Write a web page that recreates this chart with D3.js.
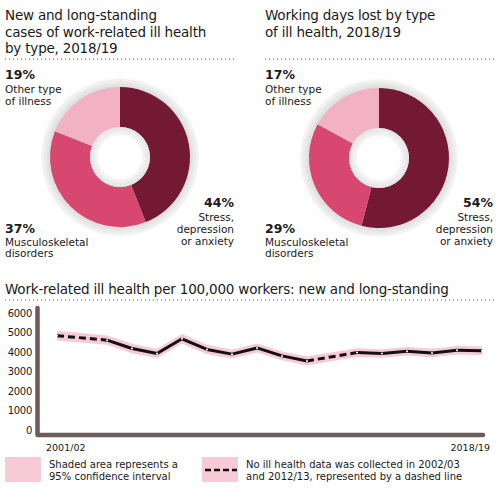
<!DOCTYPE html>
<html><head><meta charset="utf-8">
<script src="https://cdn.jsdelivr.net/npm/d3@7"></script>
<style>
body{margin:0;background:#fff;}
text{font-family:"DejaVu Sans",sans-serif;fill:#1a1a1a;}
</style></head>
<body>
<svg id="c" width="502" height="493"></svg>
<script>
// ---------- data ----------
const pieCategories = ["Stress, depression or anxiety", "Musculoskeletal disorders", "Other type of illness"];
const casesShare = [44, 37, 19];
const daysShare = [54, 29, 17];
const pieColors = ["#731934", "#d8476f", "#f3b2c4"];

const years = ["2001/02","2002/03","2003/04","2004/05","2005/06","2006/07","2007/08","2008/09","2009/10",
  "2010/11","2011/12","2012/13","2013/14","2014/15","2015/16","2016/17","2017/18","2018/19"];
const rate = [4850, null, 4620, 4190, 3930, 4690, 4140, 3900, 4220, 3810, 3550, null, 3980, 3930, 4050, 3960, 4100, 4070];
const rateLower = [4600, null, 4380, 3950, 3700, 4450, 3900, 3670, 3990, 3580, 3320, null, 3760, 3710, 3830, 3740, 3880, 3850];
const rateUpper = [5100, null, 4860, 4430, 4160, 4930, 4380, 4130, 4450, 4040, 3780, null, 4200, 4150, 4270, 4180, 4320, 4290];
const yTicks = [0, 1000, 2000, 3000, 4000, 5000, 6000];
const xTickLabels = ["2001/02", "2018/19"];

const svg = d3.select("#c");
const defs = svg.append("defs");

const halo = defs.append("radialGradient").attr("id","halo");
halo.append("stop").attr("offset","86%").attr("stop-color","#d6d6d6");
halo.append("stop").attr("offset","93%").attr("stop-color","#e7e7e7");
halo.append("stop").attr("offset","100%").attr("stop-color","#f7f7f7");
const hole = defs.append("radialGradient").attr("id","hole");
hole.append("stop").attr("offset","70%").attr("stop-color","#ffffff");
hole.append("stop").attr("offset","78%").attr("stop-color","#f3f3f3");
hole.append("stop").attr("offset","100%").attr("stop-color","#e3e3e3");

function dotted(x1, x2, y){
  svg.append("line").attr("x1",x1).attr("x2",x2).attr("y1",y).attr("y2",y)
    .attr("stroke","#555").attr("stroke-width",1).attr("stroke-dasharray","1,3");
}

function multiline(x, y, lines, opts){
  const t = svg.append("text").attr("x",x).attr("y",y)
    .attr("font-size",opts.size).attr("text-anchor",opts.anchor||"start")
    .attr("font-weight",opts.weight||"normal");
  if(opts.ls) t.attr("letter-spacing", opts.ls);
  lines.forEach((l,i)=>t.append("tspan").attr("x",x).attr("dy", i===0?0:opts.lh).text(l));
}

function donut(cx, cy, values, titleX, titleLines, labX, labR){
  multiline(titleX, 20, titleLines, {size:13.5, lh:16.5, ls:-0.2});
  const r = 70, rIn = 30;
  svg.append("circle").attr("cx",cx).attr("cy",cy).attr("r",r+9).attr("fill","url(#halo)");
  const pie = d3.pie().sort(null).value(d=>d)(values);
  const arc = d3.arc().innerRadius(rIn).outerRadius(r);
  svg.append("g").attr("transform",`translate(${cx},${cy})`)
    .selectAll("path").data(pie).join("path")
    .attr("d",arc).attr("fill",(d,i)=>pieColors[i]);
  svg.append("circle").attr("cx",cx).attr("cy",cy).attr("r",rIn).attr("fill","url(#hole)");
  multiline(labX, 79, [values[2]+"%"], {size:12.5, weight:"bold"});
  multiline(labX, 93, ["Other type","of illness"], {size:10.5, lh:12});
  multiline(labX, 233, [values[1]+"%"], {size:12.5, weight:"bold"});
  multiline(labX, 245.5, ["Musculoskeletal","disorders"], {size:10.5, lh:11.5});
  multiline(labR, 207, [values[0]+"%"], {size:12.5, weight:"bold", anchor:"end"});
  multiline(labR, 221, ["Stress,","depression","or anxiety"], {size:10.5, lh:12, anchor:"end"});
}

donut(120, 157, casesShare, 5, ["New and long-standing","cases of work-related ill health","by type, 2018/19"], 5, 234);
dotted(5, 236, 59);
donut(379, 158, daysShare, 265, ["Working days lost by type","of ill health, 2018/19"], 265, 493);
dotted(265, 496, 59);

// ---------- line chart ----------
svg.append("text").attr("x",5).attr("y",294).attr("font-size",13.5).attr("letter-spacing",-0.2)
  .text("Work-related ill health per 100,000 workers: new and long-standing");
dotted(5, 496, 300);

const x = d3.scalePoint().domain(years).range([57, 482]);
const y = d3.scaleLinear().domain([0, 6000]).range([430, 313.3]);

const pts = years.map((yr,i)=>({yr, v:rate[i], lo:rateLower[i], hi:rateUpper[i]})).filter(d=>d.v!==null);

svg.append("path").datum(pts)
  .attr("d", d3.area().x(d=>x(d.yr)).y0(d=>y(d.lo)).y1(d=>y(d.hi)))
  .attr("fill","#f6cad6");

for(let k=0;k<pts.length-1;k++){
  const a=pts[k], b=pts[k+1];
  const gap = years.indexOf(b.yr)-years.indexOf(a.yr) > 1;
  svg.append("line").attr("x1",x(a.yr)).attr("y1",y(a.v)).attr("x2",x(b.yr)).attr("y2",y(b.v))
    .attr("stroke","#111").attr("stroke-width",3)
    .attr("stroke-dasharray", gap ? "7,4" : null);
}
svg.append("g").selectAll("circle").data(pts).join("circle")
  .attr("cx",d=>x(d.yr)).attr("cy",d=>y(d.v)).attr("r",1).attr("fill","#fff");

const yAxis = svg.append("g").attr("transform","translate(32,0)")
  .call(d3.axisLeft(y).tickValues(yTicks).tickSize(0).tickPadding(0).tickFormat(d3.format("d")));
yAxis.select(".domain").remove();
yAxis.selectAll("text").attr("font-size",10).attr("font-family","DejaVu Sans,sans-serif").attr("fill","#1a1a1a").attr("letter-spacing",-0.3);

svg.append("path").attr("d",`M37.5,308 V435 H483`).attr("fill","none")
  .attr("stroke","#6e5a5a").attr("stroke-width",4.5).attr("stroke-linecap","round").attr("stroke-linejoin","round");

svg.append("text").attr("x",x(years[0])-11).attr("y",451).attr("font-size",9.5).text(xTickLabels[0]);
svg.append("text").attr("x",490).attr("y",451).attr("font-size",9.5).attr("text-anchor","end").text(xTickLabels[1]);

svg.append("rect").attr("x",5).attr("y",457).attr("width",36).attr("height",25).attr("fill","#f6cad6");
multiline(49, 468, ["Shaded area represents a","95% confidence interval"], {size:10, lh:12});
svg.append("rect").attr("x",202).attr("y",457).attr("width",36).attr("height",25).attr("fill","#f6cad6");
svg.append("line").attr("x1",205).attr("x2",237).attr("y1",470).attr("y2",470)
  .attr("stroke","#111").attr("stroke-width",2.5).attr("stroke-dasharray","6,3");
multiline(246, 468, ["No ill health data was collected in 2002/03","and 2012/13, represented by a dashed line"], {size:10, lh:12});
</script>
</body></html>
